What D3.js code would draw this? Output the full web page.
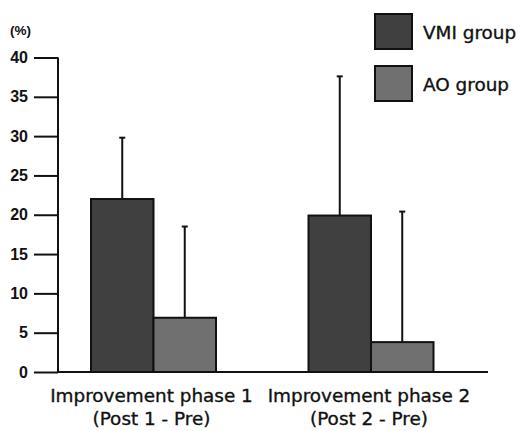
<!DOCTYPE html>
<html><head><meta charset="utf-8">
<script src="https://cdn.jsdelivr.net/npm/d3@7"></script>
<style>body{margin:0;background:#fff}svg{display:block}</style>
</head><body>
<svg id="c" width="523" height="431"></svg>
<script>
const categories = ["Improvement phase 1", "Improvement phase 2"];
const subLabels = ["(Post 1 - Pre)", "(Post 2 - Pre)"];
const seriesNames = ["VMI group", "AO group"];
const vmiMeans = [22.0, 19.9];
const vmiErr = [7.8, 17.7];
const aoMeans = [6.9, 3.8];
const aoErr = [11.6, 16.6];
const yTicks = [0, 5, 10, 15, 20, 25, 30, 35, 40];
const colors = ["#404040", "#707070"];

const svg = d3.select("#c");
const y = d3.scaleLinear().domain([0, 40]).range([372, 57.5]);
const gx = d3.scalePoint().domain(categories).range([153.5, 371]);
const bw = 62.5;
const font = "'DejaVu Sans', Arial, sans-serif";

const yAxis = d3.axisLeft(y).tickValues(yTicks).tickSize(24).tickPadding(6);
const ga = svg.append("g").attr("transform", "translate(58,0)").call(yAxis);
ga.select(".domain").attr("d", `M0,${y(40)}V${y(0)}`).attr("stroke", "#111").attr("stroke-width", 2);
ga.selectAll(".tick line").attr("stroke", "#111").attr("stroke-width", 2);
ga.selectAll(".tick text").attr("font-family", "Arial, 'Liberation Sans', sans-serif").attr("font-weight", "bold")
  .attr("font-size", 16).attr("fill", "#111");
svg.append("line").attr("x1", 58).attr("x2", 488).attr("y1", y(0)).attr("y2", y(0))
  .attr("stroke", "#111").attr("stroke-width", 2);

svg.append("text").attr("x", 10).attr("y", 35).text("(%)")
  .attr("font-family", "Arial, 'Liberation Sans', sans-serif").attr("font-weight", "bold").attr("font-size", 13.5).attr("fill", "#111");

const rows = categories.map((c, i) => [
  {c, s: 0, v: vmiMeans[i], e: vmiErr[i]},
  {c, s: 1, v: aoMeans[i], e: aoErr[i]}
]).flat();

const eg = svg.append("g");
rows.forEach(d => {
  const cx = gx(d.c) + (d.s === 0 ? -bw / 2 : bw / 2);
  eg.append("line").attr("x1", cx).attr("x2", cx).attr("y1", y(d.v)).attr("y2", y(d.v + d.e))
    .attr("stroke", "#111").attr("stroke-width", 2);
  eg.append("line").attr("x1", cx - 3).attr("x2", cx + 3).attr("y1", y(d.v + d.e)).attr("y2", y(d.v + d.e))
    .attr("stroke", "#111").attr("stroke-width", 2);
});

svg.append("g").selectAll("rect").data(rows).join("rect")
  .attr("x", d => gx(d.c) + (d.s === 0 ? -bw : 0))
  .attr("width", bw)
  .attr("y", d => y(d.v))
  .attr("height", d => y(0) - y(d.v))
  .attr("fill", d => colors[d.s])
  .attr("stroke", "#111").attr("stroke-width", 2);

function label(t, xx, yy, anchor) {
  return svg.append("text").attr("x", xx).attr("y", yy).attr("text-anchor", anchor)
    .attr("font-family", font).attr("font-size", 18.4).attr("fill", "#111")
    .attr("stroke", "#111").attr("stroke-width", 0.35).text(t);
}
categories.forEach((c, i) => {
  label(c, gx(c) - 2, 402, "middle");
  label(subLabels[i], gx(c) - 2, 425, "middle");
});

seriesNames.forEach((n, i) => {
  const ly = 14 + i * 52;
  svg.append("rect").attr("x", 375).attr("y", ly).attr("width", 37).attr("height", 35)
    .attr("fill", colors[i]).attr("stroke", "#111").attr("stroke-width", 2);
  label(n, 423, ly + 24.5, "start");
});
</script>
</body></html>
